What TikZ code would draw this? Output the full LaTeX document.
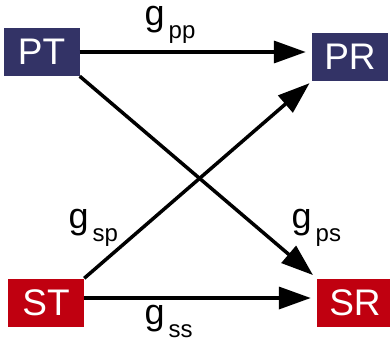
\documentclass[tikz,border=0pt]{standalone}
\usepackage{fontspec}
\setmainfont{Liberation Sans}
\usetikzlibrary{arrows.meta}
\definecolor{navy}{RGB}{51,51,102}
\definecolor{darkred}{RGB}{192,0,16}
\newcommand{\gsub}[1]{g\hspace{4pt}\raisebox{-13pt}{\fontsize{24}{26}\selectfont #1}}

\begin{document}
\begin{tikzpicture}[x=1pt,y=-1pt,
    box/.style={rectangle,minimum width=76pt,minimum height=48pt,inner sep=0pt,
      text=white,font=\fontsize{37}{40}\selectfont},
    primary/.style={box,fill=navy},
    secondary/.style={box,fill=darkred},
    link/.style={line width=3.5pt,-{Triangle[length=32pt,width=22pt]}},
    gain/.style={anchor=base west,inner sep=0pt,text height=21pt,
      font=\fontsize{36}{40}\selectfont}]
  \useasboundingbox (0,0) rectangle (390,353);
  % transmitters and receivers
  \node[primary]   (PT) at (41.5,52)  {PT};
  \node[primary]   (PR) at (350,57)   {PR};
  \node[secondary] (ST) at (46,302.5) {ST};
  \node[secondary] (SR) at (355,302.5) {SR};
  \coordinate (STo) at ([yshift=4.5pt]ST.east);
  % channel gains
  \draw[link,shorten >=6pt] (PT.east) -- (PT.east -| PR.west);
  \draw[link,shorten >=6pt] (STo) -- (STo -| SR.west);
  \draw[link,shorten >=5pt] (PT.south east) -- (SR.north west);
  \draw[link,shorten >=3pt] (ST.north east) -- (PR.south west);
  \node[gain] (gpp) at (144.5,26)  {\gsub{pp}};
  \node[gain] (gsp) at (68.5,228)  {\gsub{sp}};
  \node[gain] (gps) at (291.5,228) {\gsub{ps}};
  \node[gain] (gss) at (144.5,324) {\gsub{ss}};
\end{tikzpicture}
\end{document}
